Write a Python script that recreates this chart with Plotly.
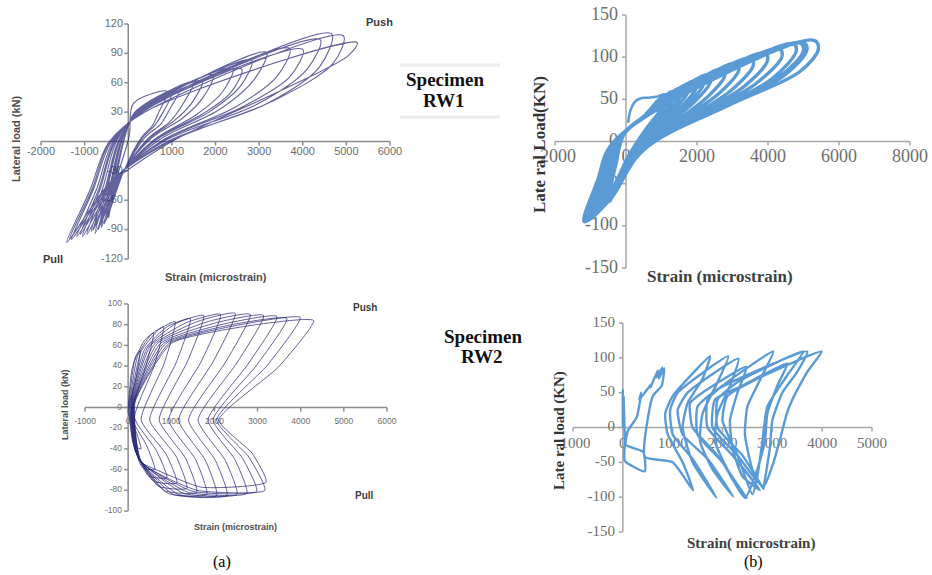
import plotly.graph_objects as go

W, H = 932, 575

# ---------------- (a) Specimen RW1 (navy, thin) ----------------
a1_pull_strain = [-450, -500, -550, -620, -650, -690, -760, -800, -850, -950, -1050, -1100, -1180, -1300, -1410, -1350]
a1_pull_load = [-78, -80, -84, -88, -86, -90, -94, -90, -92, -95, -97, -95, -97, -100, -103, -100]
a1_rel1_strain = [-280, -300, -330, -370, -390, -420, -470, -490, -520, -580, -640, -670, -720, -800, -880, -840]
a1_rel1_load = [-40, -41, -42, -44, -44, -45, -46, -46, -46, -47, -48, -48, -48, -49, -50, -50]
a1_rel2_strain = [20, -80, -100, -130, -140, -160, -190, -200, -220, -260, -300, -320, -350, -400, -450, -430]
a1_rel2_load = [5, 4, 3, 3, 3, 2, 2, 2, 1, 1, 0, 0, 0, -1, -1, -1]
a1_rel3_strain = [120, 150, 180, 200, 220, 240, 260, 270, 280, 300, 320, 330, 340, 360, 380, 370]
a1_rel3_load = [39, 30, 31, 31, 31, 31, 31, 31, 31, 31, 31, 31, 31, 31, 30, 30]
a1_push_strain = [900, 1000, 1200, 1500, 1700, 1950, 2400, 2600, 2830, 3170, 3700, 4000, 4400, 4660, 4930, 5250]
a1_push_load = [51, 50, 55, 61, 62, 68, 75, 74, 83, 91, 95, 94, 104, 110, 108, 101]
a1_unl1_strain = [700, 800, 950, 1250, 1450, 1700, 2150, 2350, 2580, 2900, 3400, 3700, 4100, 4380, 4700, 5050]
a1_unl1_load = [30, 30, 33, 38, 39, 44, 50, 50, 57, 64, 66, 66, 74, 76, 80, 88]
a1_unl2_strain = [550, 600, 750, 950, 1050, 1250, 1550, 1700, 1850, 2100, 2450, 2650, 2950, 3150, 3350, 3500]
a1_unl2_load = [16, 16, 18, 20, 21, 24, 27, 28, 30, 33, 35, 36, 38, 38, 42, 52]
a1_unl3_strain = [300, 330, 380, 450, 480, 520, 600, 620, 650, 720, 780, 800, 850, 900, 960, 1000]
a1_unl3_load = [4, 4, 4, 3, 3, 3, 2, 2, 2, 2, 1, 1, 1, 0, 0, 0]
a1_unl4_strain = [-100, -110, -120, -150, -160, -170, -200, -210, -220, -250, -280, -300, -320, -350, -380, -360]
a1_unl4_load = [-30, -31, -32, -34, -34, -35, -36, -36, -36, -37, -38, -38, -38, -39, -40, -40]

# ---------------- (b) Specimen RW1 (light blue, thick) ----------------
b1_pull_strain = [-500, -540, -580, -620, -650, -690, -720, -780, -840, -900, -960, -1020, -1080, -1100, -1130, -1180]
b1_pull_load = [-65, -68, -70, -73, -75, -77, -79, -82, -85, -87, -89, -91, -93, -93, -94, -95]
b1_rel1_strain = [-300, -325, -350, -375, -400, -425, -450, -500, -550, -600, -650, -700, -740, -755, -770, -800]
b1_rel1_load = [-30, -31, -32, -34, -35, -36, -37, -39, -41, -42, -43, -44, -45, -45, -46, -46]
b1_rel2_strain = [-60, -75, -90, -105, -120, -135, -150, -180, -210, -240, -270, -300, -330, -345, -360, -400]
b1_rel2_load = [8, 8, 7, 7, 6, 6, 5, 4, 3, 2, 1, 0, -1, -1, -2, -3]
b1_rel3_strain = [500, 580, 650, 720, 800, 880, 950, 1100, 1250, 1400, 1550, 1700, 1900, 1950, 2000, 2100]
b1_rel3_load = [30, 32, 34, 36, 38, 40, 42, 46, 50, 53, 56, 59, 62, 63, 64, 66]
b1_push_strain = [1100, 1300, 1500, 1700, 1900, 2100, 2300, 2700, 3100, 3500, 3900, 4300, 4700, 4900, 5000, 5300]
b1_push_load = [55, 59, 63, 67, 71, 75, 79, 86, 93, 99, 105, 110, 116, 117, 117, 120]
b1_unl1_strain = [1150, 1360, 1560, 1760, 1970, 2170, 2380, 2780, 3180, 3590, 3990, 4400, 4800, 5000, 5100, 5420]
b1_unl1_load = [48, 52, 56, 60, 63, 67, 71, 78, 85, 91, 97, 102, 108, 108, 109, 110]
b1_unl2_strain = [900, 1080, 1250, 1420, 1600, 1780, 1950, 2300, 2650, 3000, 3350, 3700, 4100, 4300, 4450, 4900]
b1_unl2_load = [33, 36, 38, 41, 43, 46, 48, 53, 58, 62, 66, 70, 74, 76, 78, 83]
b1_unl3_strain = [550, 650, 750, 850, 950, 1050, 1150, 1350, 1550, 1750, 1950, 2200, 2450, 2600, 2700, 3000]
b1_unl3_load = [14, 15, 16, 17, 18, 19, 20, 22, 25, 27, 30, 33, 37, 39, 40, 45]
b1_unl4_strain = [100, 125, 150, 175, 200, 225, 250, 300, 350, 380, 410, 440, 460, 470, 480, 500]
b1_unl4_load = [-15, -15, -14, -14, -14, -13, -13, -13, -12, -12, -11, -11, -10, -10, -10, -10]
b1_unl5_strain = [-250, -260, -270, -280, -290, -300, -310, -330, -350, -370, -390, -410, -430, -440, -450, -470]
b1_unl5_load = [-45, -46, -48, -49, -50, -52, -53, -56, -59, -61, -63, -65, -67, -68, -69, -72]
b1_hook_strain = [60, 120, 250, 400, 600, 850, 1090, 1020]
b1_hook_load = [22, 36, 47, 51, 52, 53, 56, 49]

# ---------------- (a) Specimen RW2 (navy, thin) ----------------
a2_start_strain = [0, 20, 40, 60, 70, 80, 90, 100, 110, 120, 130, 140, 150, 160]
a2_start_load = [0, 3, 4, 5, 5, 5, 5, 5, 5, 5, 5, 5, 5, 5]
a2_rise1_strain = [80, 150, 220, 300, 380, 450, 520, 600, 680, 750, 820, 880, 950, 1000]
a2_rise1_load = [35, 45, 50, 54, 56, 58, 60, 61, 62, 62, 62, 62, 62, 62]
a2_rise2_strain = [180, 380, 520, 700, 900, 1100, 1350, 1600, 1850, 2050, 2250, 2400, 2600, 2800]
a2_rise2_load = [50, 65, 70, 75, 78, 81, 82, 83, 83, 82, 81, 80, 80, 79]
a2_push_strain = [280, 590, 820, 1090, 1440, 1750, 2140, 2480, 2830, 3140, 3450, 3680, 3990, 4300]
a2_push_load = [55, 72, 78, 83, 86, 89, 90, 91, 90, 89, 88, 86, 87, 84]
a2_drop_strain = [180, 400, 600, 830, 1120, 1380, 1700, 1980, 2260, 2520, 2780, 2980, 3230, 3480]
a2_drop_load = [28, 38, 40, 42, 44, 45, 45, 45, 44, 43, 42, 41, 41, 39]
a2_turn_strain = [0, 60, 150, 300, 500, 720, 940, 1170, 1400, 1620, 1850, 1970, 2050, 2100]
a2_turn_load = [-5, -8, -10, -12, -12, -12, -12, -12, -12, -12, -12, -12, -12, -12]
a2_fall_strain = [190, 420, 660, 880, 1110, 1330, 1560, 1790, 2020, 2250, 2470, 2650, 2800, 2870]
a2_fall_load = [-24, -36, -42, -45, -47, -49, -50, -51, -51, -51, -50, -49, -48, -44]
a2_pull_strain = [300, 620, 900, 1130, 1360, 1590, 1820, 2050, 2290, 2520, 2750, 2980, 3170, 3200]
a2_pull_load = [-40, -60, -68, -73, -78, -82, -84, -85, -85, -84, -83, -81, -80, -72]
a2_back1_strain = [180, 330, 470, 580, 700, 820, 930, 1050, 1170, 1290, 1400, 1500, 1600, 1700]
a2_back1_load = [-38, -58, -66, -71, -76, -80, -83, -84, -84, -83, -82, -81, -80, -77]
a2_back2_strain = [60, 90, 120, 150, 170, 190, 210, 230, 250, 270, 290, 300, 310, 320]
a2_back2_load = [-20, -30, -35, -40, -42, -44, -46, -48, -50, -50, -52, -52, -53, -54]

# ---------------- (b) Specimen RW2 (light blue, thick) ----------------
b2_strain = [0, 0, 25, 15, 40, 40, 440, 410, 60, 100, 280, 370, 330, 600, 560, 700, 680, 790, 720, 830, 780, 600, 440,
             1000, 1410, 1200, 900, 850, 1000, 1750, 1600, 1300, 1200, 1400, 1880,
             1400, 1000, 950, 1100, 2115, 1900, 1600, 1550, 1800, 2215,
             1700, 1200, 1100, 1300, 2320, 2150, 1900, 1850, 2100, 2480,
             1900, 1400, 1350, 1700, 2480, 2300, 2150, 2200, 2400, 2750,
             2200, 1700, 1700, 2000, 3018, 2800, 2500, 2450, 2600, 2820,
             2400, 1900, 1900, 2300, 3620, 3300, 2900, 2800, 2700, 2600,
             2300, 2000, 2100, 2700, 3990, 3700, 3400, 3290, 3150, 3020, 2820,
             2300, 1800, 1850, 2400, 3300, 3100, 2900, 2850, 2700, 2450,
             2000, 1500, 1500, 1900, 3700, 3500, 3200, 3000, 2950, 2820]
b2_load = [0, 55, 15, 45, -20, -48, -63, -35, -25, -5, 15, 50, 40, 65, 58, 82, 72, 86, 70, 85, 60, 45, -42,
           -50, -90, -50, -10, 20, 45, 102, 70, 35, 0, -50, -101,
           -45, -10, 25, 50, 102, 65, 20, -20, -60, -99,
           -45, -10, 25, 50, 99, 60, 20, -20, -60, -101,
           -40, 0, 35, 55, 87, 50, 10, -30, -70, -90,
           -40, 0, 40, 60, 109, 75, 30, -10, -60, -88,
           -40, 0, 40, 65, 109, 75, 30, -20, -70, -96,
           -40, 10, 45, 70, 109, 80, 40, 20, -18, -51, -85,
           -40, 0, 40, 60, 92, 60, 20, -20, -60, -101,
           -50, -10, 30, 55, 109, 80, 50, 10, -30, -88]

# ---------------- tick values ----------------
a1_xticks = [-2000, -1000, 0, 1000, 2000, 3000, 4000, 5000, 6000]
a1_xlabels = ['-2000', '-1000', '', '1000', '2000', '3000', '4000', '5000', '6000']
a1_yticks = [120, 90, 60, 30, 0, -30, -60, -90, -120]
a1_ylabels = ['120', '90', '60', '30', '', '-30', '-60', '-90', '-120']
b1_xticks = [-2000, 0, 2000, 4000, 6000, 8000]
b1_xlabels = ['-2000', '0', '2000', '4000', '6000', '8000']
b1_yticks = [150, 100, 50, 0, -50, -100, -150]
b1_ylabels = ['150', '100', '50', '0', '-50', '-100', '-150']
a2_xticks = [-1000, 0, 1000, 2000, 3000, 4000, 5000, 6000]
a2_xlabels = ['-1000', '0', '1000', '2000', '3000', '4000', '5000', '6000']
a2_yticks = [100, 80, 60, 40, 20, 0, -20, -40, -60, -80, -100]
a2_ylabels = ['100', '80', '60', '40', '20', '0', '-20', '-40', '-60', '-80', '-100']
b2_xticks = [-1000, 0, 1000, 2000, 3000, 4000, 5000]
b2_xlabels = ['-1000', '0', '1000', '2000', '3000', '4000', '5000']
b2_yticks = [150, 100, 50, 0, -50, -100, -150]
b2_ylabels = ['150', '100', '50', '0', '-50', '-100', '-150']

NAVY = 'rgba(38,38,118,0.72)'
BLUE = '#5b9bd5'
SANS = 'Liberation Sans, Arial, sans-serif'
SERIF = 'Liberation Serif, Times New Roman, serif'


def lin(va, pa, vb, pb):
    k = (vb - va) / (pb - pa)
    return lambda p: va + (p - pa) * k


panels = [
    dict(box=(0, 400, 0, 290), xc=(-2000, 41, 6000, 390), yc=(120, 24, -120, 259)),
    dict(box=(500, 932, 0, 290), xc=(-2000, 555, 8000, 910), yc=(150, 15, -150, 268)),
    dict(box=(0, 400, 290, 552), xc=(-1000, 85, 6000, 387), yc=(100, 304, -100, 511)),
    dict(box=(500, 932, 290, 575), xc=(-1000, 573, 5000, 872), yc=(150, 323, -150, 532)),
]

fig = go.Figure()
layout = dict(width=W, height=H, margin=dict(l=0, r=0, t=0, b=0), paper_bgcolor='white',
              plot_bgcolor='rgba(0,0,0,0)', showlegend=False)
conv = []
for i, p in enumerate(panels, start=1):
    x0, x1, y0, y1 = p['box']
    va, pa, vb, pb = p['xc']
    fx, gx = lin(va, pa, vb, pb), lin(pa, va, pb, vb)
    va, pa, vb, pb = p['yc']
    fy, gy = lin(va, pa, vb, pb), lin(pa, va, pb, vb)
    conv.append((fx, fy, gx, gy))
    sx = '' if i == 1 else str(i)
    layout['xaxis' + sx] = dict(domain=[x0 / W, x1 / W], range=[fx(x0), fx(x1)], visible=False,
                                anchor='y' + sx, fixedrange=True)
    layout['yaxis' + sx] = dict(domain=[1 - y1 / H, 1 - y0 / H], range=[fy(y1), fy(y0)], visible=False,
                                anchor='x' + sx, fixedrange=True)

shapes = []
annotations = []


def refs(n):
    s = '' if n == 1 else str(n)
    return 'x' + s, 'y' + s


def add_axes(n, xlim, ylim, xt, xl, yt, yl, xlab_py, ylab_px, color, font, size, tcolor):
    fx, fy, gx, gy = conv[n - 1]
    xr, yr = refs(n)
    line = dict(color=color, width=1.5)
    shapes.append(dict(type='line', xref=xr, yref=yr, x0=xlim[0], x1=xlim[1], y0=0, y1=0, line=line, layer='below'))
    shapes.append(dict(type='line', xref=xr, yref=yr, x0=0, x1=0, y0=ylim[0], y1=ylim[1], line=line, layer='below'))
    for t in xt:
        shapes.append(dict(type='line', xref=xr, yref=yr, x0=t, x1=t, y0=0, y1=fy(gy(0) + 4), line=line, layer='below'))
    for t in yt:
        shapes.append(dict(type='line', xref=xr, yref=yr, x0=fx(gx(0) - 4), x1=0, y0=t, y1=t, line=line, layer='below'))
    fig.add_trace(go.Scatter(x=xt, y=[fy(xlab_py)] * len(xt), text=xl, mode='text', textposition='middle center',
                             textfont=dict(family=font, size=size, color=tcolor), xaxis=xr, yaxis=yr,
                             hoverinfo='skip', cliponaxis=False))
    fig.add_trace(go.Scatter(x=[fx(ylab_px)] * len(yt), y=yt, text=yl, mode='text', textposition='middle left',
                             textfont=dict(family=font, size=size, color=tcolor), xaxis=xr, yaxis=yr,
                             hoverinfo='skip', cliponaxis=False))


def chain(*cols):
    xs, ys = [], []
    for k in range(len(cols[0][0])):
        for cx, cy in cols:
            xs.append(cx[k])
            ys.append(cy[k])
    return xs, ys


def add_curve(n, xs, ys, color, width, smoothing=1.0):
    xr, yr = refs(n)
    fig.add_trace(go.Scatter(x=xs, y=ys, mode='lines', line=dict(color=color, width=width, shape='spline',
                                                                  smoothing=smoothing),
                             xaxis=xr, yaxis=yr, hoverinfo='skip'))


# axes
add_axes(1, (-2000, 6000), (120, -120), a1_xticks, a1_xlabels, a1_yticks, a1_ylabels, 152, 123,
         '#8c8c8c', SANS, 11, '#6e6e6e')
add_axes(2, (-2000, 8000), (150, -150), b1_xticks, b1_xlabels, b1_yticks, b1_ylabels, 157, 618,
         '#a6a6a6', SERIF, 18, '#6e6e6e')
add_axes(3, (-1000, 6000), (100, -100), a2_xticks, a2_xlabels, a2_yticks, a2_ylabels, 422, 122,
         '#8c8c8c', SANS, 8.5, '#6e6e6e')
add_axes(4, (-1000, 5000), (150, -150), b2_xticks, b2_xlabels, b2_yticks, b2_ylabels, 444, 615,
         '#a6a6a6', SERIF, 15, '#6e6e6e')

# curves
xs, ys = chain((a1_pull_strain, a1_pull_load), (a1_rel1_strain, a1_rel1_load), (a1_rel2_strain, a1_rel2_load),
               (a1_rel3_strain, a1_rel3_load), (a1_push_strain, a1_push_load), (a1_unl1_strain, a1_unl1_load),
               (a1_unl2_strain, a1_unl2_load), (a1_unl3_strain, a1_unl3_load), (a1_unl4_strain, a1_unl4_load))
add_curve(1, xs, ys, NAVY, 1.1, smoothing=0.9)

xs, ys = chain((b1_pull_strain, b1_pull_load), (b1_rel1_strain, b1_rel1_load), (b1_rel2_strain, b1_rel2_load),
               (b1_rel3_strain, b1_rel3_load), (b1_push_strain, b1_push_load), (b1_unl1_strain, b1_unl1_load),
               (b1_unl2_strain, b1_unl2_load), (b1_unl3_strain, b1_unl3_load), (b1_unl4_strain, b1_unl4_load),
               (b1_unl5_strain, b1_unl5_load))
add_curve(2, xs, ys, BLUE, 3.4)
add_curve(2, b1_hook_strain, b1_hook_load, BLUE, 2.5)

xs, ys = chain((a2_start_strain, a2_start_load), (a2_rise1_strain, a2_rise1_load), (a2_rise2_strain, a2_rise2_load),
               (a2_push_strain, a2_push_load), (a2_drop_strain, a2_drop_load), (a2_turn_strain, a2_turn_load),
               (a2_fall_strain, a2_fall_load), (a2_pull_strain, a2_pull_load), (a2_back1_strain, a2_back1_load),
               (a2_back2_strain, a2_back2_load))
add_curve(3, xs, ys, NAVY, 1.0, smoothing=0.5)

add_curve(4, b2_strain, b2_load, BLUE, 2.4, smoothing=0.5)


# text
def txt(x, y, s, size, family, color, bold=False, angle=0):
    annotations.append(dict(x=x / W, y=1 - y / H, xref='paper', yref='paper',
                            text='<b>' + s + '</b>' if bold else s, showarrow=False,
                            font=dict(size=size, family=family, color=color), textangle=angle,
                            xanchor='center', yanchor='middle'))


txt(16, 139, 'Lateral load (kN)', 11, SANS, '#4d4d4d', True, -90)
txt(216, 277, 'Strain (microstrain)', 11, SANS, '#4d4d4d', True)
txt(379, 22, 'Push', 11, SANS, '#3c3c3c', True)
txt(53, 259, 'Pull', 11, SANS, '#3c3c3c', True)
txt(539, 145, 'Late ral Load(KN)', 17, SERIF, '#333333', True, -90)
txt(720, 276, 'Strain (microstrain)', 17, SERIF, '#404040', True)
txt(65, 405, 'Lateral load (kN)', 9, SANS, '#4d4d4d', True, -90)
txt(235, 527, 'Strain (microstrain)', 9, SANS, '#4d4d4d', True)
txt(365, 308, 'Push', 10, SANS, '#3c3c3c', True)
txt(364, 495, 'Pull', 10, SANS, '#3c3c3c', True)
txt(559, 431, 'Late ral load (KN)', 15, SERIF, '#333333', True, -90)
txt(751, 543, 'Strain( microstrain)', 15, SERIF, '#404040', True)
txt(445, 80, 'Specimen', 19, SERIF, '#111111', True)
txt(444, 100, 'RW1', 19, SERIF, '#111111', True)
txt(483, 336, 'Specimen', 19, SERIF, '#111111', True)
txt(482, 356, 'RW2', 19, SERIF, '#111111', True)
txt(222, 562, '(a)', 16, SERIF, '#000000')
txt(753, 562, '(b)', 16, SERIF, '#000000')

for yy in (65, 117):
    shapes.append(dict(type='line', xref='paper', yref='paper', x0=400 / W, x1=500 / W,
                       y0=1 - yy / H, y1=1 - yy / H, line=dict(color='#ebebeb', width=3)))

layout['shapes'] = shapes
layout['annotations'] = annotations
fig.update_layout(**layout)
fig.write_html('out.html', config={'displayModeBar': False},
               post_script="document.body.style.margin='0px';document.body.style.overflow='hidden';")
